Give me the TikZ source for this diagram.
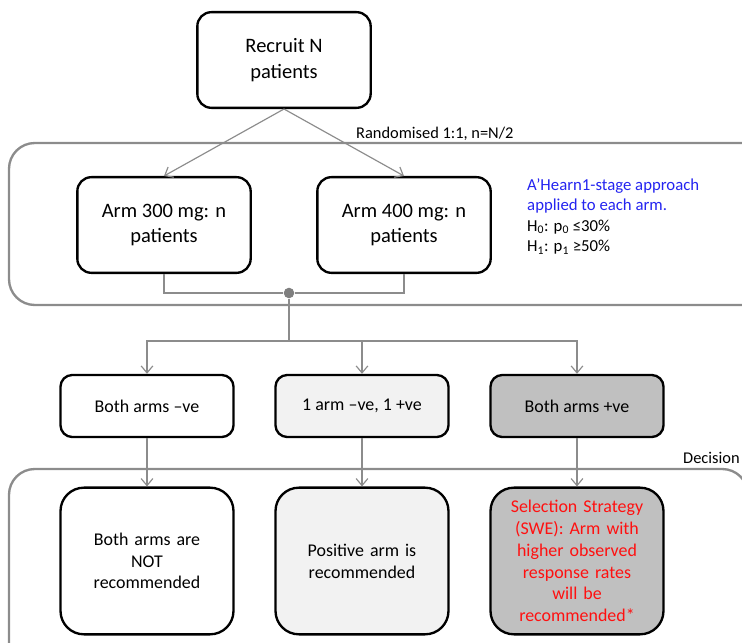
\documentclass[tikz,border=0pt]{standalone}
\usepackage{fontspec}
\setmainfont{Carlito}
\usetikzlibrary{arrows.meta}
\definecolor{linegray}{HTML}{8C8C8C}
\definecolor{dotgray}{HTML}{7F7F7F}
\definecolor{lightfill}{HTML}{F2F2F2}
\definecolor{darkfill}{HTML}{C0C0C0}
\definecolor{noteblue}{HTML}{2424F0}
\definecolor{notered}{HTML}{FF1010}
\tikzset{
  box/.style={draw=black, line width=2pt, rounded corners=12pt, align=center, inner sep=2pt},
  bigbox/.style={box, minimum width=5.2cm, minimum height=2.87cm, font=\fontsize{17.5}{22}\selectfont},
  casebox/.style={box, rounded corners=10pt, minimum width=5.19cm, minimum height=1.86cm, font=\fontsize{15.3}{18.5}\selectfont},
  endbox/.style={box, rounded corners=20pt, minimum width=5.19cm, minimum height=4.4cm, text width=4.8cm, font=\fontsize{15.3}{18.6}\selectfont},
  group/.style={draw=linegray, line width=2pt, rounded corners=22pt},
  conn/.style={draw=linegray, line width=1pt},
  arr/.style={conn, -{Straight Barb[length=6pt,width=10pt]}},
  dot/.style={circle, fill=dotgray, inner sep=0pt, minimum size=9pt},
  lbl/.style={inner sep=0pt, font=\fontsize{14}{18}\selectfont},
}
\begin{document}
\begin{tikzpicture}[x=0.03cm, y=-0.03cm]
\useasboundingbox (0,0) rectangle (742,643);
\clip (0,0) rectangle (742,643);
% grouping frames
\draw[group] (9,143) rectangle (770,305);
\draw[group] (9,469) rectangle (748,720);
\node[lbl, anchor=base west] (rand) at (356,138) {Randomised 1:1, n=N/2};
\node[lbl, anchor=base west] (decision) at (683,463) {Decision};
% recruitment and arms
\node[bigbox] (recruit) at (284,60) {Recruit N\\patients};
\node[bigbox] (arm300) at (164,225) {Arm 300 mg: n\\patients};
\node[bigbox] (arm400) at (404,225) {Arm 400 mg: n\\patients};
\node[lbl, anchor=north west, align=left, font=\fontsize{14.3}{17.5}\selectfont] (design) at (527,178)
  {\textcolor{noteblue}{A’Hearn1-stage approach}\\
   \textcolor{noteblue}{applied to each arm.}\\
   H\textsubscript{0}: p\textsubscript{0} ≤30\%\\
   H\textsubscript{1}: p\textsubscript{1} ≥50\%};
\draw[arr] (recruit.south) -- (arm300.north);
\draw[arr] (recruit.south) -- (arm400.north);
\node[dot] (split) at (289,293) {};
\draw[conn] (arm300.south) |- (split);
\draw[conn] (split) -| (arm400.south);
\coordinate (fork) at (289,341);
\draw[conn] (split) -- (fork);
% outcomes
\node[casebox] (neg) at (147,406) {Both arms –ve};
\node[casebox, fill=lightfill] (mixed) at (362,406) {1 arm –ve, 1 +ve};
\node[casebox, fill=darkfill] (pos) at (577,406) {Both arms +ve};
\draw[arr] (fork) -| (neg.north);
\draw[arr] (fork) -| (mixed.north);
\draw[arr] (fork) -| (pos.north);
% decisions
\node[endbox] (notrec) at (147,561) {Both arms are\\NOT\\recommended};
\node[endbox, fill=lightfill] (posrec) at (362,561) {Positive arm is\\recommended};
\node[endbox, fill=darkfill, text=notered] (select) at (577,561)
  {Selection Strategy\\(SWE): Arm with\\higher observed\\response rates\\will be\\recommended*};
\draw[arr] (neg.south) -- (notrec.north);
\draw[arr] (mixed.south) -- (posrec.north);
\draw[arr] (pos.south) -- (select.north);
\end{tikzpicture}
\end{document}
